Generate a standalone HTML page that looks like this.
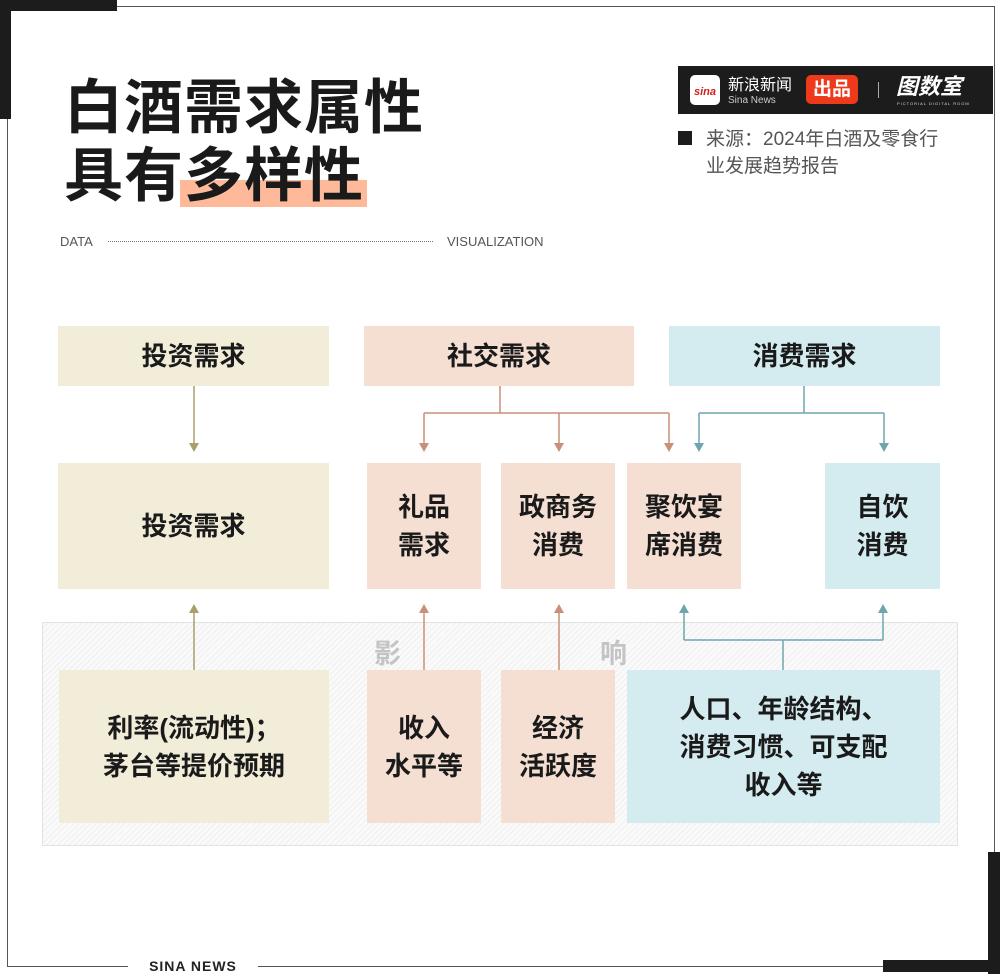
<!DOCTYPE html>
<html><head><meta charset="utf-8"><style>
*{margin:0;padding:0;box-sizing:border-box}
body{width:1000px;height:974px;background:#fff;position:relative;overflow:hidden;font-family:"Liberation Sans","Noto Sans CJK SC",sans-serif}
.a{position:absolute}
.box{position:absolute;display:flex;align-items:center;justify-content:center;text-align:center;font-weight:bold;color:#1a1a1a;font-size:26px;line-height:38px}
.b{background:#f1edd9}.p{background:#f4dfd2}.c{background:#d4ecf0}
</style></head><body>
<!-- frame -->
<div class="a" style="left:7px;top:6px;width:988px;height:961px;border:1.5px solid #555"></div>
<div class="a" style="left:0;top:0;width:117px;height:11px;background:#1c1c1c"></div>
<div class="a" style="left:0;top:0;width:11px;height:119px;background:#1c1c1c"></div>
<div class="a" style="left:988px;top:852px;width:12px;height:122px;background:#1c1c1c"></div>
<div class="a" style="left:883px;top:960px;width:117px;height:12px;background:#1c1c1c"></div>
<div class="a" style="left:128px;top:956px;width:130px;height:18px;background:#fff;font-size:14px;font-weight:bold;color:#222;letter-spacing:1px;text-align:center;line-height:20px">SINA NEWS</div>
<!-- title -->
<div class="a" style="left:180px;top:180px;width:187px;height:27px;background:#fdb99a"></div>
<div class="a" style="left:64px;top:74px;font-size:59px;font-weight:bold;line-height:68px;color:#1a1a1a;letter-spacing:1px">白酒需求属性<br>具有多样性</div>
<!-- logo -->
<div class="a" style="left:678px;top:66px;width:315px;height:48px;background:#1c1c1c"></div>
<div class="a" style="left:690px;top:75px;width:30px;height:30px;background:#fff;border-radius:5px;color:#d0201a;font-size:11px;font-weight:bold;font-style:italic;text-align:center;line-height:34px">sina</div>
<div class="a" style="left:728px;top:76px;color:#fff;font-size:16px;line-height:20px">新浪新闻</div>
<div class="a" style="left:728px;top:95px;color:#ccc;font-size:10px">Sina News</div>
<div class="a" style="left:806px;top:75px;width:52px;height:29px;background:#ee3a1b;border-radius:5px;color:#fff;font-size:19px;font-weight:bold;text-align:center;line-height:29px">出品</div>
<div class="a" style="left:878px;top:82px;width:1px;height:16px;background:#aaa"></div>
<div class="a" style="left:896px;top:74px;color:#fff;font-size:22px;font-weight:bold;font-style:italic;line-height:26px">图数室</div>
<div class="a" style="left:897px;top:101px;color:#ddd;font-size:4px;letter-spacing:1px">PICTORIAL DIGITAL ROOM</div>
<div class="a" style="left:678px;top:131px;width:14px;height:14px;background:#1c1c1c"></div>
<div class="a" style="left:706px;top:126px;color:#555;font-size:19px;line-height:27px">来源：2024年白酒及零食行<br>业发展趋势报告</div>
<!-- data viz line -->
<div class="a" style="left:60px;top:234px;color:#555;font-size:13px">DATA</div>
<div class="a" style="left:108px;top:241px;width:325px;border-top:1.5px dotted #777"></div>
<div class="a" style="left:447px;top:234px;color:#555;font-size:13px">VISUALIZATION</div>
<!-- gray region -->
<div class="a" style="left:42px;top:622px;width:916px;height:224px;border:1.5px solid #e2e2e2;background:repeating-linear-gradient(135deg,#fafafa 0 3px,#efefef 3px 4px)"></div>
<div class="a" style="left:374px;top:632px;font-size:27px;font-weight:bold;color:#c4c4c4">影</div>
<div class="a" style="left:600px;top:632px;font-size:27px;font-weight:bold;color:#c4c4c4">响</div>
<!-- boxes -->
<div class="box b" style="left:58px;top:326px;width:271px;height:60px">投资需求</div>
<div class="box p" style="left:364px;top:326px;width:270px;height:60px">社交需求</div>
<div class="box c" style="left:669px;top:326px;width:271px;height:60px">消费需求</div>
<div class="box b" style="left:58px;top:463px;width:271px;height:126px">投资需求</div>
<div class="box p" style="left:367px;top:463px;width:114px;height:126px">礼品<br>需求</div>
<div class="box p" style="left:501px;top:463px;width:114px;height:126px">政商务<br>消费</div>
<div class="box p" style="left:627px;top:463px;width:114px;height:126px">聚饮宴<br>席消费</div>
<div class="box c" style="left:825px;top:463px;width:115px;height:126px">自饮<br>消费</div>
<div class="box b" style="left:59px;top:670px;width:270px;height:153px">利率(流动性)；<br>茅台等提价预期</div>
<div class="box p" style="left:367px;top:670px;width:114px;height:153px">收入<br>水平等</div>
<div class="box p" style="left:501px;top:670px;width:114px;height:153px">经济<br>活跃度</div>
<div class="box c" style="left:627px;top:670px;width:313px;height:153px">人口、年龄结构、<br>消费习惯、可支配<br>收入等</div>
<!-- connectors -->
<svg class="a" style="left:0;top:0" width="1000" height="974">
<defs>
<marker id="o" markerUnits="userSpaceOnUse" markerWidth="10" markerHeight="10" refX="0" refY="5" orient="auto"><path d="M0,0L9,5L0,10z" fill="#a89f6a"/></marker>
<marker id="r" markerUnits="userSpaceOnUse" markerWidth="10" markerHeight="10" refX="0" refY="5" orient="auto"><path d="M0,0L9,5L0,10z" fill="#c98f78"/></marker>
<marker id="t" markerUnits="userSpaceOnUse" markerWidth="10" markerHeight="10" refX="0" refY="5" orient="auto"><path d="M0,0L9,5L0,10z" fill="#6fa5ae"/></marker>
</defs>
<g fill="none" stroke-width="1.5">
<path d="M194 386V443" stroke="#a89f6a" marker-end="url(#o)"/>
<path d="M500 386V413M424 413H669" stroke="#c98f78"/>
<path d="M424 413V443" stroke="#c98f78" marker-end="url(#r)"/>
<path d="M559 413V443" stroke="#c98f78" marker-end="url(#r)"/>
<path d="M669 413V443" stroke="#c98f78" marker-end="url(#r)"/>
<path d="M804 386V413M699 413H884" stroke="#6fa5ae"/>
<path d="M699 413V443" stroke="#6fa5ae" marker-end="url(#t)"/>
<path d="M884 413V443" stroke="#6fa5ae" marker-end="url(#t)"/>
<path d="M194 670V613" stroke="#a89f6a" marker-end="url(#o)"/>
<path d="M424 670V613" stroke="#c98f78" marker-end="url(#r)"/>
<path d="M559 670V613" stroke="#c98f78" marker-end="url(#r)"/>
<path d="M783 670V640M684 640H883" stroke="#6fa5ae"/>
<path d="M684 640V613" stroke="#6fa5ae" marker-end="url(#t)"/>
<path d="M883 640V613" stroke="#6fa5ae" marker-end="url(#t)"/>
</g>
</svg>
</body></html>
